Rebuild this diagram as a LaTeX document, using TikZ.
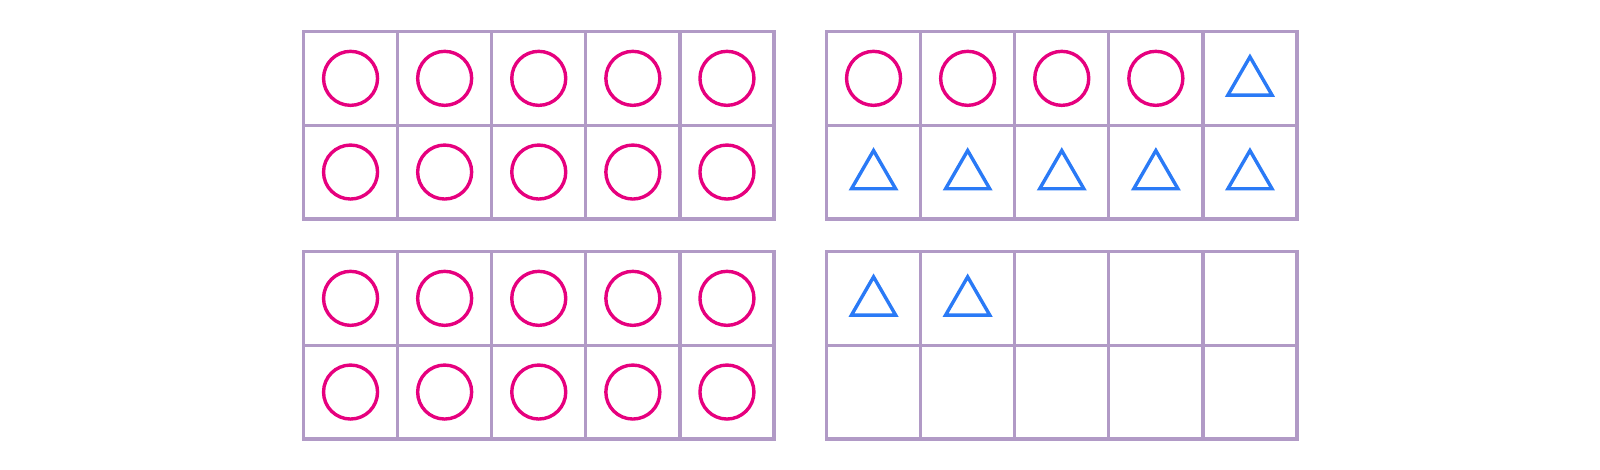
\documentclass[tikz,border=0pt]{standalone}
\usetikzlibrary{shapes.geometric}
\definecolor{counter pink}{HTML}{E6007E}
\definecolor{counter blue}{HTML}{2A7AF6}
\definecolor{frame color}{HTML}{B19AC6}
\tikzset{
    x={1pt},
    y={-1pt},
    frame line/.style={
        draw=frame color,
        line width={3.3pt},
    },
    circle counter/.style={
        circle, draw=counter pink,
        line width={3.4pt},
        inner sep=0pt,
        outer sep=0pt,
        minimum size={54},
    },
    triangle counter/.style={
        regular polygon, regular polygon sides=3,
        draw=counter blue,
        line width={3.4pt},
        inner sep=0pt,
        outer sep=0pt,
        minimum size={51},
        yshift=-4,
    },
}

\begin{document}
\begin{tikzpicture}
\useasboundingbox (0,0) rectangle (1600,470);
% ten frames
\foreach \fx/\fy in {303.5/31.5, 826.5/31.5, 303.5/251.5, 826.5/251.5} {
    \draw[frame line] (\fx,\fy) rectangle +(470.5,187.4);
    \draw[frame line] (\fx,\fy+93.7) -- +(470.5,0);
    \foreach \i in {1,...,4}
        \draw[frame line] (\fx+94.1*\i,\fy) -- +(0,187.4);
}
% counters, first frame
\node[circle counter] (a1) at (350.55,78.35) {};
\node[circle counter] (a2) at (444.65,78.35) {};
\node[circle counter] (a3) at (538.75,78.35) {};
\node[circle counter] (a4) at (632.85,78.35) {};
\node[circle counter] (a5) at (726.95,78.35) {};
\node[circle counter] (a6) at (350.55,172.05) {};
\node[circle counter] (a7) at (444.65,172.05) {};
\node[circle counter] (a8) at (538.75,172.05) {};
\node[circle counter] (a9) at (632.85,172.05) {};
\node[circle counter] (a10) at (726.95,172.05) {};
% counters, second frame
\node[circle counter] (b1) at (873.55,78.35) {};
\node[circle counter] (b2) at (967.65,78.35) {};
\node[circle counter] (b3) at (1061.75,78.35) {};
\node[circle counter] (b4) at (1155.85,78.35) {};
\node[triangle counter] (b5) at (1249.95,78.35) {};
\node[triangle counter] (b6) at (873.55,172.05) {};
\node[triangle counter] (b7) at (967.65,172.05) {};
\node[triangle counter] (b8) at (1061.75,172.05) {};
\node[triangle counter] (b9) at (1155.85,172.05) {};
\node[triangle counter] (b10) at (1249.95,172.05) {};
% counters, third frame
\node[circle counter] (c1) at (350.55,298.35) {};
\node[circle counter] (c2) at (444.65,298.35) {};
\node[circle counter] (c3) at (538.75,298.35) {};
\node[circle counter] (c4) at (632.85,298.35) {};
\node[circle counter] (c5) at (726.95,298.35) {};
\node[circle counter] (c6) at (350.55,392.05) {};
\node[circle counter] (c7) at (444.65,392.05) {};
\node[circle counter] (c8) at (538.75,392.05) {};
\node[circle counter] (c9) at (632.85,392.05) {};
\node[circle counter] (c10) at (726.95,392.05) {};
% counters, fourth frame
\node[triangle counter] (d1) at (873.55,298.35) {};
\node[triangle counter] (d2) at (967.65,298.35) {};
\end{tikzpicture}
\end{document}
